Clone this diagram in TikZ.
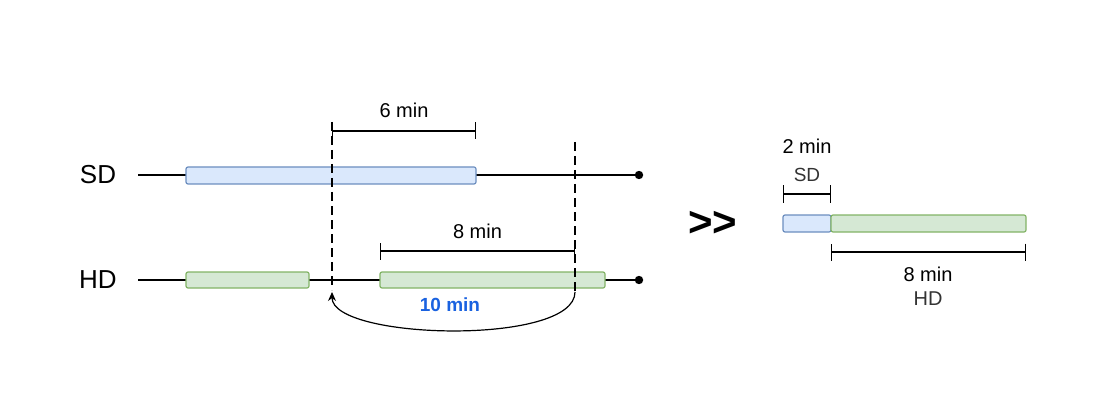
\documentclass[tikz,border=0pt]{standalone}
\usepackage{fontspec}
\setmainfont{Liberation Sans}
\usetikzlibrary{arrows.meta}
\definecolor{sdfill}{HTML}{DAE8FC}
\definecolor{sdline}{HTML}{6C8EBF}
\definecolor{hdfill}{HTML}{D5E8D4}
\definecolor{hdline}{HTML}{82B366}
\definecolor{gapblue}{HTML}{1A62E0}
\tikzset{
  sdbar/.style={draw=sdline, fill=sdfill, line width=1.2pt, rounded corners=2pt},
  hdbar/.style={draw=hdline, fill=hdfill, line width=1.2pt, rounded corners=2pt},
  track/.style={line width=1.4pt},
  guide/.style={line width=1.3pt, dash pattern=on 9pt off 5pt},
  span/.style={line width=1.4pt, {Bar[width=17pt]}-{Bar[width=17pt]}},
  lbl/.style={font=\fontsize{20}{22}\selectfont},
}
\begin{document}
\begin{tikzpicture}[x=1pt, y=-1pt]
\useasboundingbox (0,0) rectangle (1118,398);
% rows
\node[font=\fontsize{26}{28}\selectfont] (sd) at (98,175) {SD};
\node[font=\fontsize{26}{28}\selectfont] (hd) at (98,280) {HD};
\coordinate (sdstart) at (138,175);
\coordinate (sdend) at (639,175);
\coordinate (hdstart) at (138,280);
\coordinate (hdend) at (639,280);
\draw[track] (sdstart) -- (sdend);
\draw[track] (hdstart) -- (hdend);
\fill (sdend) circle (4.2);
\fill (hdend) circle (4.2);
% segments
\draw[sdbar] (186,167) rectangle (476,184);
\draw[hdbar] (186,272) rectangle (309,288);
\draw[hdbar] (380,272) rectangle (605,288);
% cut lines
\coordinate (cuta) at (332,122);
\coordinate (cutab) at (332,292);
\coordinate (cutb) at (575,142);
\coordinate (cutbb) at (575,292);
\draw[guide] (cuta) -- (332,290);
\draw[guide] (cutb) -- (cutbb);
\draw[line width=1.2pt, -{Stealth[length=9pt,width=8pt]}]
  (cutbb) .. controls (575,346) and (332,340) .. (cutab);
\node[font=\bfseries\fontsize{19}{21}\selectfont, text=gapblue] (gap) at (450,305) {10 min};
% spans
\draw[span] (332,131) -- node[lbl, above=9pt] (six) {6 min} (476,131);
\draw[span] (380,251) -- node[lbl, above=8pt] (eightl) {8 min} (575,251);
% result
\node[font=\bfseries\fontsize{42}{42}\selectfont] (gg) at (713,224) {>\kern-1pt>};
\draw[sdbar] (783,215) rectangle (831,232);
\draw[hdbar] (831,215) rectangle (1026,232);
\draw[span] (783,194) -- (831,194);
\node[lbl] (two) at (807,146) {2 min};
\node[font=\fontsize{19}{21}\selectfont, text=black!80] (sdr) at (807,175) {SD};
\draw[span] (831,252) -- (1026,252);
\node[lbl] (eightr) at (928,274) {8 min};
\node[font=\fontsize{20}{22}\selectfont, text=black!80] (hdr) at (928,299) {HD};
\end{tikzpicture}
\end{document}
